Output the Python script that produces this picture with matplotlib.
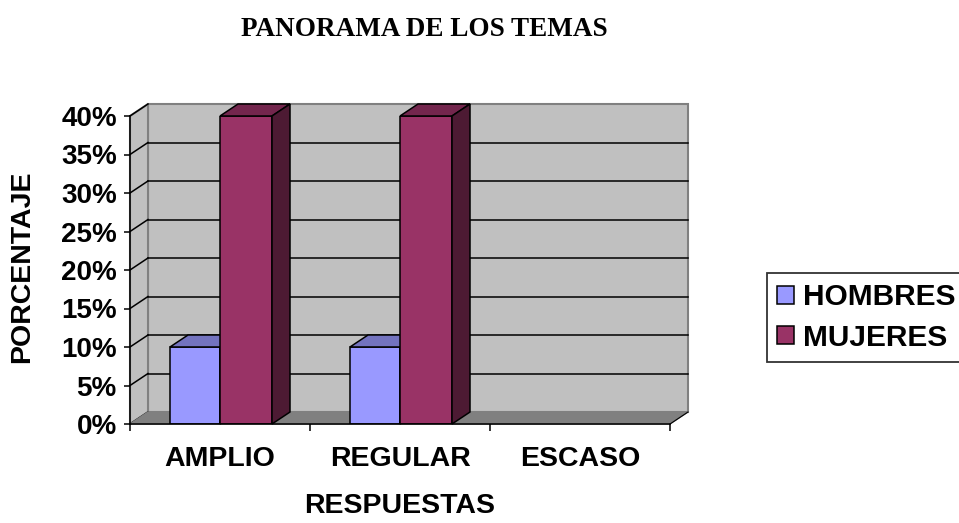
import numpy as np
import matplotlib
matplotlib.use('Agg')
import matplotlib.pyplot as plt
from matplotlib.patches import Polygon, Patch
from matplotlib.ticker import PercentFormatter

# datos
categorias = ['AMPLIO', 'REGULAR', 'ESCASO']
series = ['HOMBRES', 'MUJERES']
hombres = [0.10, 0.10, 0.0]
mujeres = [0.40, 0.40, 0.0]
y_ticks = [0.0, 0.05, 0.10, 0.15, 0.20, 0.25, 0.30, 0.35, 0.40]

plt.rcParams['font.family'] = ['Liberation Sans', 'DejaVu Sans']
plt.rcParams['font.weight'] = 'bold'

W, H = 959, 523
fig = plt.figure(figsize=(W / 100, H / 100), dpi=100)
# plano frontal del grafico 3D
ax = fig.add_axes([130 / W, (H - 424) / H, 540 / W, 308 / H])
ymax = 0.40
ax.set_xlim(0, len(categorias))
ax.set_ylim(0, ymax)

# profundidad en unidades de datos
DX = 18 / 180
DY = ymax * 12 / 308

lw = 1.1
pared = '#C0C0C0'
gris = '#808080'
n = len(categorias)

# pared del fondo
ax.add_patch(Polygon([(DX, DY), (n + DX, DY), (n + DX, ymax + DY), (DX, ymax + DY)],
                     closed=True, fc=pared, ec=gris, lw=1.5, clip_on=False, zorder=1))
# pared izquierda
ax.add_patch(Polygon([(0, 0), (DX, DY), (DX, ymax + DY), (0, ymax)],
                     closed=True, fc=pared, ec=gris, lw=1.5, clip_on=False, zorder=1))
# suelo
ax.add_patch(Polygon([(0, 0), (n, 0), (n + DX, DY), (DX, DY)],
                     closed=True, fc=gris, ec=gris, lw=1, clip_on=False, zorder=1.5))
ax.plot([n, n + DX], [0, DY], color='black', lw=0.8, clip_on=False, zorder=2)

# lineas de division
for t in y_ticks[1:]:
    c = gris if t == ymax else 'black'
    ax.plot([DX, n + DX], [t + DY, t + DY], color=c, lw=lw, clip_on=False, zorder=1.2)
for t in y_ticks:
    ax.plot([0, DX], [t, t + DY], color='black', lw=lw, clip_on=False, zorder=1.2)

# barras
colores = {
    'HOMBRES': ('#9999FF', '#7373BF', '#5C5C99'),
    'MUJERES': ('#993366', '#73264D', '#4D1A33'),
}
ancho = [50 / 180, 52 / 180]
inicio = [40 / 180, 90 / 180]
z = 3
for i in range(n):
    for s, vals in enumerate([hombres, mujeres]):
        h = vals[i]
        if h <= 0:
            continue
        frente, arriba, lado = colores[series[s]]
        x0 = i + inicio[s]
        w = ancho[s]
        ax.bar(x0, h, w, align='edge', color=frente, edgecolor='black',
               lw=lw, zorder=z)
        ax.add_patch(Polygon([(x0, h), (x0 + w, h), (x0 + w + DX, h + DY), (x0 + DX, h + DY)],
                             closed=True, fc=arriba, ec='black', lw=lw,
                             clip_on=False, zorder=z))
        ax.add_patch(Polygon([(x0 + w, 0), (x0 + w + DX, DY), (x0 + w + DX, h + DY), (x0 + w, h)],
                             closed=True, fc=lado, ec='black', lw=lw,
                             clip_on=False, zorder=z))
        z += 1

# ejes
for sp in ['top', 'right']:
    ax.spines[sp].set_visible(False)
for sp in ['left', 'bottom']:
    ax.spines[sp].set_linewidth(lw)
    ax.spines[sp].set_zorder(10)
ax.set_yticks(y_ticks)
ax.yaxis.set_major_formatter(PercentFormatter(1.0, decimals=0))
ax.tick_params(axis='y', direction='out', length=4.5, width=lw, pad=5, labelsize=20)
ax.set_xticks(np.arange(n + 1))
ax.set_xticklabels([])
ax.set_xticks(np.arange(n) + 0.5, minor=True)
ax.set_xticklabels(categorias, minor=True)
ax.tick_params(axis='x', which='major', direction='out', length=5, width=lw)
ax.tick_params(axis='x', which='minor', length=0, pad=15.5, labelsize=20.5)

fig.text(424 / W, 1 - 29 / H, 'PANORAMA DE LOS TEMAS', ha='center', va='center',
         family=['Liberation Serif'], weight='bold', fontsize=19.5)
fig.text(22 / W, 1 - 267 / H, 'PORCENTAJE', rotation=90, ha='center', va='center',
         fontsize=20.5, weight='bold')
fig.text(400 / W, 1 - 506 / H, 'RESPUESTAS', ha='center', va='center',
         fontsize=20.5, weight='bold')

handles = [Patch(fc=colores[s][0], ec='black', lw=lw) for s in series]
leg = fig.legend(handles, series, loc='upper left',
                 bbox_to_anchor=(767 / W, 1 - 273 / H), bbox_transform=fig.transFigure,
                 borderaxespad=0, fontsize=21.5, frameon=True, fancybox=False,
                 handlelength=0.55, handleheight=0.55, handletextpad=0.3,
                 borderpad=0.35, labelspacing=0.42)
leg.get_frame().set_edgecolor('black')
leg.get_frame().set_linewidth(1.3)

fig.savefig('out.png', dpi=100)
